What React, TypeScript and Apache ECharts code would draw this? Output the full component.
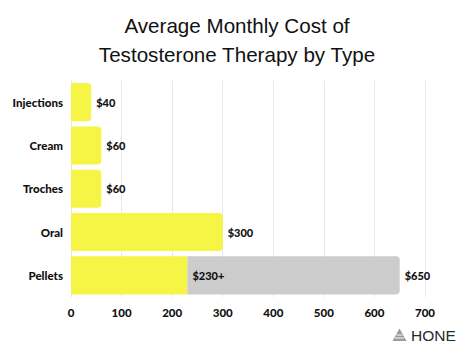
import React, { useEffect, useRef } from "react";
import * as echarts from "echarts";

const categories = ["Injections", "Cream", "Troches", "Oral", "Pellets"];
const lowValues = [40, 60, 60, 300, 230];
const extraValues = [null, null, null, null, 420];
const lowLabels = ["$40", "$60", "$60", "$300", "$230+"];
const totalLabels = ["", "", "", "", "$650"];
const xTicks = [0, 100, 200, 300, 400, 500, 600, 700];

const YELLOW = "#F6F545";
const GREY = "#CCCCCC";
const LABEL_FONT = "Lato";

export default function App() {
  const ref = useRef<HTMLDivElement>(null);
  useEffect(() => {
    if (!ref.current) return;
    const chart = echarts.init(ref.current, null, { renderer: "svg" });
    chart.setOption({
      animation: false,
      backgroundColor: "#ffffff",
      title: {
        text: "Average Monthly Cost of\nTestosterone Therapy by Type",
        left: "center",
        top: 6,
        textStyle: {
          fontFamily: "Liberation Sans",
          fontWeight: "normal",
          fontSize: 20.6,
          lineHeight: 29,
          color: "#111111",
        },
      },
      grid: { left: 71, right: 49, top: 80.5, bottom: 58, containLabel: false },
      xAxis: {
        type: "value",
        min: xTicks[0],
        max: xTicks[xTicks.length - 1],
        interval: 100,
        axisLine: { show: false },
        axisTick: { show: false },
        axisLabel: {
          margin: 9,
          fontFamily: LABEL_FONT,
          fontWeight: 900,
          fontSize: 11.5,
          color: "#111111",
        },
        splitLine: { show: true, lineStyle: { color: "#E8E8E8", width: 1 } },
      },
      yAxis: {
        type: "category",
        data: categories,
        inverse: true,
        axisLine: { show: false },
        axisTick: { show: false },
        axisLabel: {
          margin: 8,
          fontFamily: LABEL_FONT,
          fontWeight: 900,
          fontSize: 11.5,
          color: "#111111",
        },
      },
      series: [
        {
          type: "bar",
          stack: "cost",
          data: lowValues.map((v, i) => ({
            value: v,
            itemStyle: {
              borderRadius: extraValues[i] == null ? [0, 4, 4, 0] : 0,
            },
            label: {
              show: true,
              position: extraValues[i] == null ? "right" : "insideRight",
              offset: extraValues[i] == null ? [0, 0] : [42, 0],
              formatter: lowLabels[i],
            },
          })),
          barCategoryGap: "12%",
          itemStyle: { color: YELLOW },
          label: {
            distance: 5,
            fontFamily: LABEL_FONT,
            fontWeight: 900,
            fontSize: 11,
            color: "#111111",
          },
        },
        {
          type: "bar",
          stack: "cost",
          data: extraValues.map((v, i) => ({
            value: v,
            label: { show: v != null, formatter: totalLabels[i] },
          })),
          barCategoryGap: "12%",
          itemStyle: { color: GREY, borderRadius: [0, 4, 4, 0] },
          label: {
            position: "right",
            distance: 5,
            fontFamily: LABEL_FONT,
            fontWeight: 900,
            fontSize: 11,
            color: "#111111",
          },
        },
      ],
      graphic: [
        {
          type: "polygon",
          shape: { points: [[399.5, 328.5], [392.5, 341], [406.5, 341]] },
          style: { fill: "#9a9a9a" },
        },
        {
          type: "line",
          shape: { x1: 396.5, y1: 335, x2: 402.5, y2: 335 },
          style: { stroke: "#ffffff", lineWidth: 1 },
        },
        {
          type: "line",
          shape: { x1: 395, y1: 338, x2: 404, y2: 338 },
          style: { stroke: "#ffffff", lineWidth: 1 },
        },
        {
          type: "text",
          x: 411,
          y: 327,
          style: {
            text: "HONE",
            fontFamily: "Liberation Sans",
            fontSize: 15.5,
            fill: "#2a2a2a",
          },
        },
      ],
    });
    return () => chart.dispose();
  }, []);
  return <div ref={ref} style={{ width: 474, height: 355, position: "absolute", left: 0, top: 0 }} />;
}
